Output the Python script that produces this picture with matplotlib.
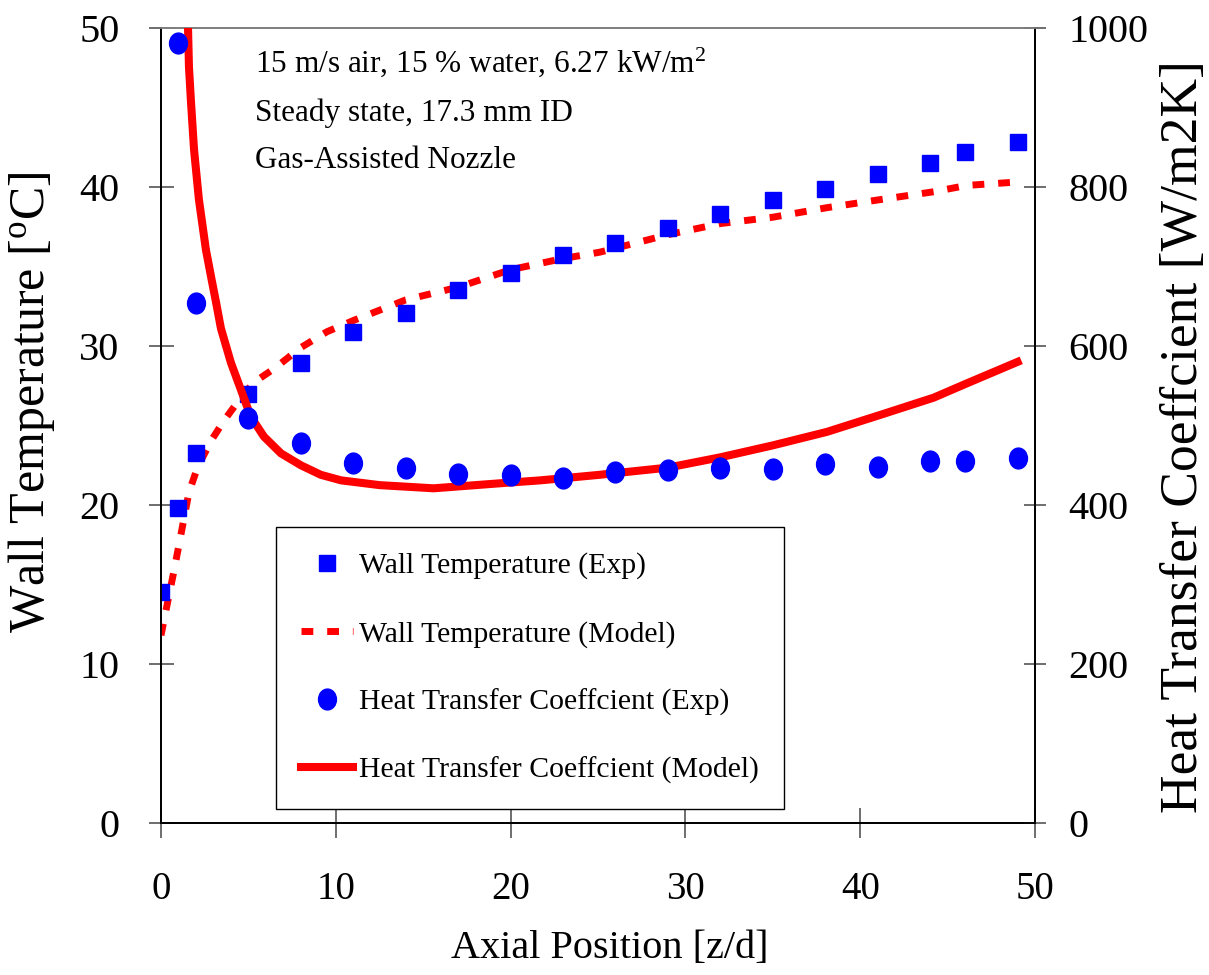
import matplotlib
matplotlib.use("Agg")
import matplotlib.pyplot as plt
from matplotlib.path import Path
import numpy as np

plt.rcParams["font.family"] = ["Liberation Serif", "DejaVu Serif"]
plt.rcParams["mathtext.fontset"] = "custom"
plt.rcParams["mathtext.rm"] = "Liberation Serif"
plt.rcParams["mathtext.it"] = "Liberation Serif:italic"

# ---- data ----
z_exp = [0, 1, 2, 5, 8, 11, 14, 17, 20, 23, 26, 29, 32, 35, 38, 41, 44, 46, 49]
wall_exp = [14.5, 19.8, 23.3, 27.0, 28.9, 30.9, 32.1, 33.5, 34.6, 35.7,
            36.5, 37.4, 38.3, 39.2, 39.9, 40.8, 41.5, 42.2, 42.8]

z_htc_exp = [1, 2, 5, 8, 11, 14, 17, 20, 23, 26, 29, 32, 35, 38, 41, 44, 46, 49]
htc_exp = [981, 654, 509, 478, 453, 447, 439, 438, 434, 441, 444, 447,
           445, 452, 448, 455, 455, 459]

z_wall_model = [0.0, 0.4, 0.75, 1.15, 1.6, 2.1, 2.9, 3.6, 4.6, 5.3, 6.5, 8.0, 9.5,
                11, 14, 17, 20, 23, 25.1, 29, 32, 35, 38.1, 41.1, 44.2, 46.1, 48.8]
wall_model = [11.8, 14.0, 15.9, 18.2, 20.8, 22.4, 24.1, 25.3, 26.8, 27.7, 28.6, 29.9, 30.9,
              31.6, 32.9, 33.7, 34.8, 35.5, 35.9, 37.0, 37.7, 38.1, 38.7, 39.2, 39.7, 40.1, 40.3]

z_htc_model = [1.53, 1.6, 1.71, 1.89, 2.17, 2.57, 2.9, 3.14, 3.43, 4.0, 4.57, 5.14, 5.89,
               6.86, 8.0, 9.14, 10.3, 12.5, 15.6, 19.8, 21.7, 25.1, 29.0, 32.0, 35.0,
               38.1, 41.1, 44.2, 46.1, 49.0]
htc_model = [1014, 951, 909, 847, 784, 721, 683, 656, 622, 579, 545, 511, 486,
             465, 450, 438, 431, 425, 421, 428, 431, 438, 447, 460, 475,
             492, 513, 535, 553, 580]

fig = plt.figure(figsize=(12.09, 9.75), dpi=100)
fig.patch.set_facecolor("white")
ax = fig.add_axes([161 / 1209, 1 - 823 / 975, 874 / 1209, 795 / 975])
ax2 = ax.twinx()

# slightly tall ellipse for the circle markers
circ = Path.unit_circle()
ellipse = Path(circ.vertices * np.array([0.86, 1.0]), circ.codes)

RED = "#FF0000"
BLUE = "#0000FF"

l1, = ax.plot(z_exp, wall_exp, ls="none", marker="s", ms=12, color=BLUE,
              label="Wall Temperature (Exp)", zorder=4)
l2, = ax.plot(z_wall_model, wall_model, color=RED, lw=5, dashes=(1.7, 2.0),
              label="Wall Temperature (Model)", zorder=3)
l3, = ax2.plot(z_htc_exp, htc_exp, ls="none", marker=ellipse, ms=15, color=BLUE,
               label="Heat Transfer Coeffcient (Exp)", zorder=4)
l4, = ax2.plot(z_htc_model, htc_model, color=RED, lw=5.8, solid_joinstyle="round",
               label="Heat Transfer Coeffcient (Model)", zorder=3)

ax.set_xlim(0, 50)
ax.set_ylim(0, 50)
ax2.set_ylim(0, 1000)
ax.set_xticks(np.arange(0, 51, 10))
ax.set_yticks(np.arange(0, 51, 10))
ax2.set_yticks(np.arange(0, 1001, 200))

for a in (ax, ax2):
    for s in a.spines.values():
        s.set_color("black")
        s.set_linewidth(1.3)
    a.spines["top"].set_color("#808080")

ax.tick_params(axis="x", direction="inout", length=21, width=1.2, color="#555555",
               labelsize=28, pad=24)
ax.tick_params(axis="y", direction="inout", length=18, width=1.2, color="#555555",
               labelsize=29, pad=21)
ax2.tick_params(axis="y", direction="inout", length=16, width=1.2, color="#555555",
                labelsize=29, pad=16)

ax.set_xlabel("Axial Position [z/d]", fontsize=29)
ax.xaxis.set_label_coords((610 - 161) / 874, -0.135)
ax.set_ylabel(r"Wall Temperature [$^{\mathrm{o}}$C]", fontsize=36)
ax.yaxis.set_label_coords((57 - 161) / 874, (823 - 402) / 795)
ax2.set_ylabel("Heat Transfer Coeffcient [W/m2K]", fontsize=38.5)
ax2.yaxis.set_label_coords((1160 - 161) / 874, (823 - 437) / 795)

# notes in the upper left
ax.text(0.1076, 0.9447, r"15 m/s air, 15 % water, 6.27 kW/m$^{2}$", transform=ax.transAxes,
        fontsize=22.5, va="baseline", ha="left")
ax.text(0.1076, 0.883, "Steady state, 17.3 mm ID", transform=ax.transAxes,
        fontsize=22.5, va="baseline", ha="left")
ax.text(0.1076, 0.8239, "Gas-Assisted Nozzle", transform=ax.transAxes,
        fontsize=22.5, va="baseline", ha="left")

leg = ax2.legend(handles=[l1, l2, l3, l4], loc="upper left",
                 bbox_to_anchor=(276 / 1209, 1 - 527 / 975), bbox_transform=fig.transFigure,
                 borderaxespad=0, fontsize=21.4, frameon=True, fancybox=False,
                 framealpha=1, edgecolor="black", borderpad=0.85, labelspacing=1.38,
                 handlelength=1.75, handletextpad=0.2)
leg.get_frame().set_linewidth(1.0)

fig.savefig("out.png", dpi=100)
